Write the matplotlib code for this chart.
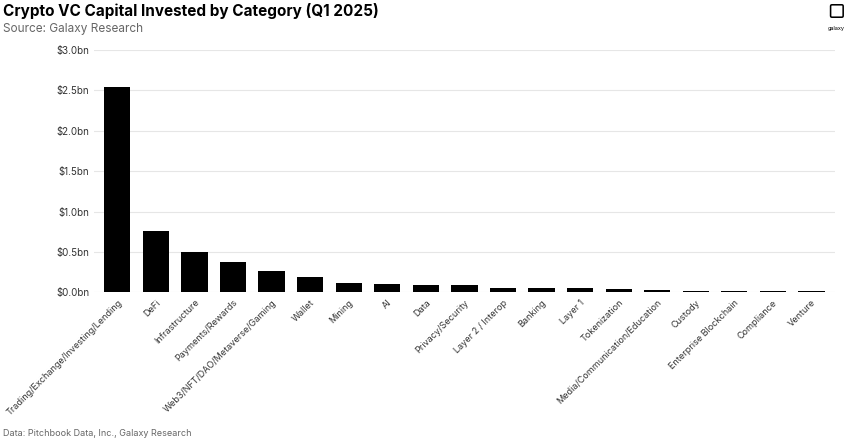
import matplotlib.pyplot as plt

categories = ["Trading/Exchange/Investing/Lending", "DeFi", "Infrastructure", "Payments/Rewards",
              "Web3/NFT/DAO/Metaverse/Gaming", "Wallet", "Mining", "AI", "Data", "Privacy/Security",
              "Layer 2 / Interop", "Banking", "Layer 1", "Tokenization", "Media/Communication/Education",
              "Custody", "Enterprise Blockchain", "Compliance", "Venture"]
values = [2.54, 0.76, 0.50, 0.37, 0.27, 0.19, 0.11, 0.10, 0.09, 0.09,
          0.06, 0.06, 0.05, 0.04, 0.035, 0.02, 0.013, 0.012, 0.011]
yticks = [0, 0.5, 1.0, 1.5, 2.0, 2.5, 3.0]
ytick_labels = ["$0.0bn", "$0.5bn", "$1.0bn", "$1.5bn", "$2.0bn", "$2.5bn", "$3.0bn"]

plt.rcParams['font.family'] = 'Inter'
fig = plt.figure(figsize=(8.49, 4.43), dpi=100)
ax = fig.add_axes([0.111, 0.34, 0.872, 0.547])

ax.bar(range(len(values)), values, width=0.68, color="black", zorder=3)
ax.set_ylim(0, 3.0)
ax.set_xlim(-0.6, len(values) - 0.4)
ax.set_yticks(yticks)
ax.set_yticklabels(ytick_labels, fontsize=7, color="#333333")
ax.set_xticks(range(len(values)))
ax.set_xticklabels(categories, rotation=45, ha="right", rotation_mode="anchor", fontsize=6.5, color="#333333")
ax.grid(axis="y", color="#e6e6e6", linewidth=0.8, zorder=0)
for s in ax.spines.values():
    s.set_visible(False)
ax.tick_params(length=0)
ax.tick_params(axis="x", pad=4)

fig.text(0.004, 0.975, "Crypto VC Capital Invested by Category (Q1 2025)", fontsize=11, fontweight="bold", va="center")
fig.text(0.004, 0.935, "Source: Galaxy Research", fontsize=8.5, color="#666666", va="center")
fig.text(0.004, 0.022, "Data: Pitchbook Data, Inc., Galaxy Research", fontsize=6.5, color="#666666", va="center")
fig.text(0.985, 0.97, "\u25a2", fontsize=14, ha="center", va="center")
fig.text(0.985, 0.935, "galaxy", fontsize=4, ha="center", va="center")

fig.savefig("out.png", dpi=100)
